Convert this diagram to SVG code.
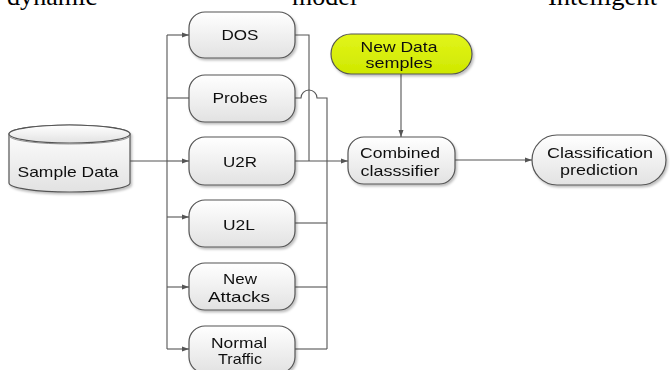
<svg xmlns="http://www.w3.org/2000/svg" width="670" height="370" viewBox="0 0 670 370">
<style>
.n{stroke:#555;stroke-width:1.2;fill:url(#g)}
.t{font-family:"Liberation Sans",Arial,sans-serif;font-size:15px;fill:#111;text-anchor:middle}
.c{stroke:#555;stroke-width:1.1;fill:none}
.a{marker-end:url(#ar)}
.top{font-family:"Liberation Serif","Times New Roman",serif;font-size:26px;fill:#000}
</style>
<defs>
<linearGradient id="g" x1="0" y1="0" x2="0" y2="1"><stop offset="0" stop-color="#ffffff"/><stop offset="1" stop-color="#e2e2e2"/></linearGradient>
<linearGradient id="gy" x1="0" y1="0" x2="0" y2="1"><stop offset="0" stop-color="#e2f51a"/><stop offset="1" stop-color="#cfe800"/></linearGradient>
<filter id="sh" x="-10%" y="-10%" width="130%" height="140%"><feDropShadow dx="1.5" dy="2" stdDeviation="1.2" flood-color="#000" flood-opacity="0.25"/></filter>
<marker id="ar" markerWidth="8" markerHeight="6" refX="7" refY="3" orient="auto" markerUnits="userSpaceOnUse"><path d="M0,0.5 L7,3 L0,5.5 Z" fill="#555"/></marker>
</defs>
<text class="top" x="7" y="5" textLength="90" lengthAdjust="spacingAndGlyphs">dynamic</text>
<text class="top" x="292" y="5">model</text>
<text class="top" x="548" y="5" textLength="109" lengthAdjust="spacingAndGlyphs">Intelligent</text>
<g id="connectors">
<path class="c" d="M130,161 H167"/>
<path class="c" d="M167,35 V349"/>
<path class="c a" d="M167,35 H189"/>
<path class="c" d="M167,98 H189"/>
<path class="c a" d="M167,161 H189"/>
<path class="c a" d="M167,217 H189"/>
<path class="c a" d="M167,287 H189"/>
<path class="c a" d="M167,349 H189"/>
<path class="c" d="M295,35 H309 V161"/>
<path class="c a" d="M295,161 H348"/>
<path class="c" d="M295,98 H301 A8,8 0 0 1 317,98 H327 V349"/>
<path class="c" d="M295,223 H327"/>
<path class="c" d="M295,287 H327"/>
<path class="c" d="M295,349 H327"/>
<path class="c a" d="M401,74 V137"/>
<path class="c a" d="M455,160 H532"/>
</g>
<g id="sample" filter="url(#sh)">
<path class="n" d="M9,134 V183 A60.5,9 0 0 0 130,183 V134 A60.5,9 0 0 0 9,134 Z"/>
<ellipse cx="69.5" cy="134" rx="60.5" ry="9" class="n"/>
<path d="M10,137 A60,8 0 0 0 129,137" fill="none" stroke="#777" stroke-width="0.8"/>
<text class="t" x="68" y="177" textLength="101" lengthAdjust="spacingAndGlyphs">Sample Data</text>
</g>
<g id="dos" filter="url(#sh)">
<rect class="n" x="189" y="12" width="106" height="46" rx="16"/>
<text class="t" x="240" y="40" textLength="37" lengthAdjust="spacingAndGlyphs">DOS</text>
</g>
<g id="probes" filter="url(#sh)">
<rect class="n" x="189" y="75" width="106" height="47" rx="16"/>
<text class="t" x="240" y="103" textLength="55" lengthAdjust="spacingAndGlyphs">Probes</text>
</g>
<g id="u2r" filter="url(#sh)">
<rect class="n" x="189" y="137" width="106" height="48" rx="16"/>
<text class="t" x="240" y="167" textLength="34" lengthAdjust="spacingAndGlyphs">U2R</text>
</g>
<g id="u2l" filter="url(#sh)">
<rect class="n" x="189" y="200" width="106" height="47" rx="16"/>
<text class="t" x="239" y="230" textLength="32" lengthAdjust="spacingAndGlyphs">U2L</text>
</g>
<g id="newattacks" filter="url(#sh)">
<rect class="n" x="189" y="263" width="106" height="47" rx="16"/>
<text class="t" x="240" y="284" textLength="34" lengthAdjust="spacingAndGlyphs">New</text>
<text class="t" x="239" y="302" textLength="62" lengthAdjust="spacingAndGlyphs">Attacks</text>
</g>
<g id="normal" filter="url(#sh)">
<rect class="n" x="189" y="326" width="106" height="47" rx="16"/>
<text class="t" x="239" y="348" textLength="56" lengthAdjust="spacingAndGlyphs">Normal</text>
<text class="t" x="240" y="364" textLength="44" lengthAdjust="spacingAndGlyphs">Traffic</text>
</g>
<g id="newdata" filter="url(#sh)">
<rect x="331" y="34" width="141" height="40" rx="20" fill="url(#gy)" stroke="#555" stroke-width="1.2"/>
<text class="t" x="399" y="52" textLength="77" lengthAdjust="spacingAndGlyphs">New Data</text>
<text class="t" x="399" y="68" textLength="67" lengthAdjust="spacingAndGlyphs">semples</text>
</g>
<g id="combined" filter="url(#sh)">
<rect class="n" x="348" y="137" width="107" height="47" rx="16"/>
<text class="t" x="400" y="158" textLength="80" lengthAdjust="spacingAndGlyphs">Combined</text>
<text class="t" x="400" y="176" textLength="79" lengthAdjust="spacingAndGlyphs">classsifier</text>
</g>
<g id="classification" filter="url(#sh)">
<rect class="n" x="532" y="135" width="134" height="50" rx="25"/>
<text class="t" x="600" y="158" textLength="106" lengthAdjust="spacingAndGlyphs">Classification</text>
<text class="t" x="599" y="175" textLength="78" lengthAdjust="spacingAndGlyphs">prediction</text>
</g>
</svg>
